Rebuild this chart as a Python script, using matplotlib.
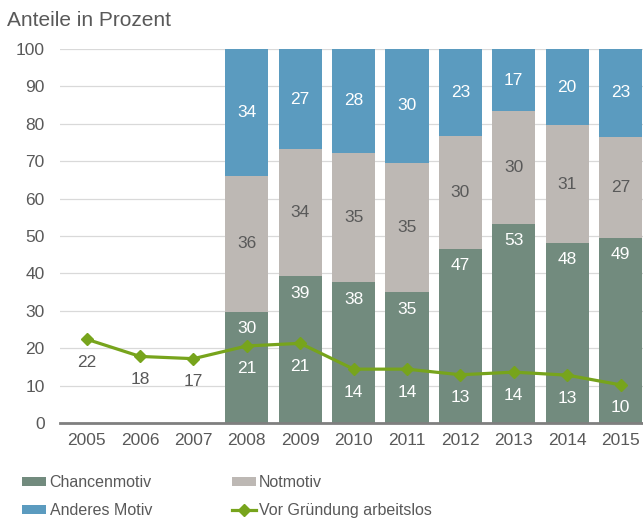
import matplotlib
matplotlib.use("Agg")
import matplotlib.pyplot as plt
import numpy as np

plt.rcParams["font.family"] = ["Liberation Sans", "DejaVu Sans"]

years = ["2005", "2006", "2007", "2008", "2009", "2010", "2011", "2012", "2013", "2014", "2015"]
bar_years = ["2008", "2009", "2010", "2011", "2012", "2013", "2014", "2015"]
chancen = [29.7, 39.2, 37.6, 34.9, 46.6, 53.3, 48.2, 49.4]
notmotiv = [36.4, 34.0, 34.7, 34.7, 30.2, 30.0, 31.4, 27.2]
anderes = [33.9, 26.8, 27.7, 30.4, 23.2, 16.7, 20.4, 23.4]
arbeitslos = [22.4, 17.8, 17.2, 20.6, 21.3, 14.4, 14.4, 12.9, 13.6, 12.8, 10.2]

C_CHANCE = "#728b7e"
C_NOT = "#bdb8b4"
C_AND = "#5b9bbf"
C_LINE = "#77a41c"
TXT = "#595959"

fig = plt.figure(figsize=(6.43, 5.21), dpi=100)
ax = fig.add_axes([60 / 643, 98 / 521, 583 / 643, 374 / 521])

x_all = np.arange(len(years))
xb = np.array([years.index(y) for y in bar_years])
w = 0.81

b1 = ax.bar(xb, chancen, w, color=C_CHANCE, label="Chancenmotiv", zorder=2)
b2 = ax.bar(xb, notmotiv, w, bottom=chancen, color=C_NOT, label="Notmotiv", zorder=2)
bottom3 = np.array(chancen) + np.array(notmotiv)
b3 = ax.bar(xb, anderes, w, bottom=bottom3, color=C_AND, label="Anderes Motiv", zorder=2)
ln, = ax.plot(x_all, arbeitslos, color=C_LINE, lw=2.3, marker="D", ms=6,
              label="Vor Gründung arbeitslos", zorder=4)

fs = 12.5
for xi, c, n, a, b in zip(xb, chancen, notmotiv, anderes, bottom3):
    ax.annotate(f"{c:.0f}", (xi, c), xytext=(0, -12), textcoords="offset points",
                ha="center", va="center", color="white", fontsize=fs, zorder=5)
    ax.text(xi, c + n / 2, f"{n:.0f}", ha="center", va="center", color=TXT,
            fontsize=fs, zorder=5)
    ax.text(xi, b + a / 2, f"{a:.0f}", ha="center", va="center", color="white",
            fontsize=fs, zorder=5)

for xi, v in zip(x_all, arbeitslos):
    col = "white" if xi in xb else TXT
    ax.annotate(f"{v:.0f}", (xi, v), xytext=(0, -16.5), textcoords="offset points",
                ha="center", va="center", color=col, fontsize=fs, zorder=5)

ax.set_xlim(-0.5, 10.42)
ax.set_ylim(0, 100)
ax.set_yticks(range(0, 101, 10))
ax.set_xticks(x_all)
ax.set_xticklabels(years)
ax.tick_params(axis="both", length=0, labelsize=fs, colors=TXT)
ax.tick_params(axis="y", pad=11)
ax.tick_params(axis="x", pad=7)
ax.grid(axis="y", color="#d9d9d9", lw=0.9, zorder=0)
ax.set_axisbelow(True)
for s in ["top", "right", "left"]:
    ax.spines[s].set_visible(False)
ax.spines["bottom"].set_color("#7f7f7f")
ax.spines["bottom"].set_linewidth(2)
ax.spines["bottom"].set_zorder(6)

fig.text(7 / 643, 1 - 20 / 521, "Anteile in Prozent", ha="left", va="center",
         fontsize=15, color=TXT)

fig.legend(handles=[b1, b3, b2, ln], ncol=2, loc="upper left",
           bbox_to_anchor=(16 / 643, 1 - 469 / 521), frameon=False,
           fontsize=11.5, labelcolor=TXT, handlelength=1.5, handleheight=0.5,
           handletextpad=0.2, columnspacing=5.0, labelspacing=0.8,
           borderaxespad=0)

fig.savefig("out.png", dpi=100)
